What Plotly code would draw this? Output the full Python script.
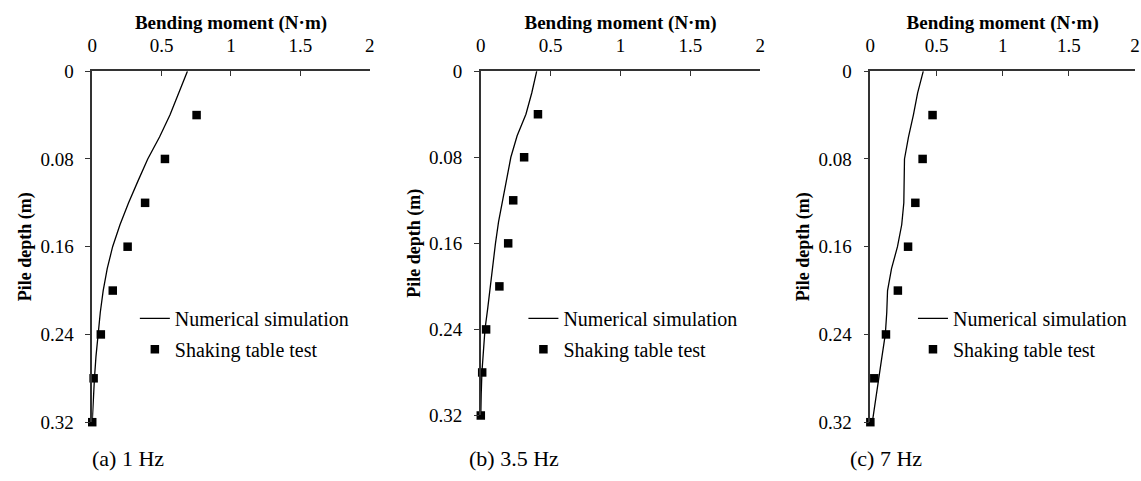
import plotly.graph_objects as go

# ---- data ----
panel_titles = ["(a) 1 Hz", "(b) 3.5 Hz", "(c) 7 Hz"]
depth_line = [0, 0.02, 0.04, 0.06, 0.08, 0.10, 0.12, 0.14, 0.16, 0.18, 0.20, 0.22, 0.24, 0.26, 0.28, 0.30, 0.32]
sim_1hz = [0.686, 0.625, 0.56, 0.485, 0.40, 0.33, 0.262, 0.20, 0.147, 0.108, 0.079, 0.058, 0.042, 0.027, 0.016, 0.006, 0.0]
sim_35hz = [0.40, 0.365, 0.323, 0.26, 0.215, 0.184, 0.155, 0.127, 0.105, 0.088, 0.07, 0.05, 0.03, 0.018, 0.008, 0.003, 0.0]
sim_7hz = [0.40, 0.357, 0.325, 0.288, 0.258, 0.253, 0.253, 0.237, 0.205, 0.16, 0.13, 0.124, 0.113, 0.088, 0.063, 0.038, 0.015]

depth_pts = [0.04, 0.08, 0.12, 0.16, 0.20, 0.24, 0.28, 0.32]
exp_1hz = [0.752, 0.524, 0.381, 0.255, 0.148, 0.062, 0.01, 0.0]
exp_35hz = [0.409, 0.31, 0.232, 0.196, 0.133, 0.038, 0.01, 0.0]
exp_7hz = [0.47, 0.395, 0.34, 0.285, 0.208, 0.118, 0.03, 0.0]

sims = [sim_1hz, sim_35hz, sim_7hz]
exps = [exp_1hz, exp_35hz, exp_7hz]

x_ticks = [0, 0.5, 1, 1.5, 2]
y_ticks = [0, 0.08, 0.16, 0.24, 0.32]

W, H = 1141, 481
# plot areas in pixels (left, right, top, bottom)
areas = [(88, 368, 64, 431), (480, 762, 64, 424), (873, 1140, 64, 431)]
caption_x = [124, 514, 889]

SERIF = "Liberation Serif, Times New Roman, serif"
AXC = "#333333"

fig = go.Figure()
layout = dict(
    width=W, height=H, margin=dict(l=0, r=0, t=0, b=0),
    paper_bgcolor="white", plot_bgcolor="white",
    font=dict(family=SERIF, color="black", size=19),
    annotations=[],
)

for i in range(3):
    sfx = "" if i == 0 else str(i + 1)
    leg = "legend" if i == 0 else f"legend{i + 1}"
    fig.add_trace(go.Scatter(
        x=sims[i], y=depth_line, mode="lines", name="Numerical simulation",
        line=dict(color="black", width=1.3), xaxis="x" + sfx, yaxis="y" + sfx,
        legend=leg, cliponaxis=False, legendgroup=f"a{i}"))
    fig.add_trace(go.Scatter(
        x=exps[i], y=depth_pts, mode="markers", name="Shaking table test",
        marker=dict(symbol="square", size=8.5, color="black"),
        xaxis="x" + sfx, yaxis="y" + sfx, legend=leg, cliponaxis=False,
        legendgroup=f"b{i}"))

    l, r, t, b = areas[i]
    layout["xaxis" + sfx] = dict(
        domain=[l / W, r / W], anchor="y" + sfx, side="top", range=[0, 2],
        tickvals=x_ticks, ticks="inside", ticklen=5, tickcolor=AXC, tickwidth=1.3,
        showline=True, linecolor=AXC, linewidth=1.5, showgrid=False, zeroline=False,
        tickfont=dict(family=SERIF, size=19), ticklabelstandoff=10,
        title=dict(text="<b>Bending moment (N·m)</b>", font=dict(family=SERIF, size=19), standoff=0),
    )
    layout["yaxis" + sfx] = dict(
        domain=[1 - b / H, 1 - t / H], anchor="x" + sfx, range=[0.32, 0],
        tickvals=y_ticks, ticktext=["0", "0.08", "0.16", "0.24", "0.32"],
        ticks="outside", ticklen=5, tickcolor=AXC, tickwidth=1.3,
        showline=True, linecolor=AXC, linewidth=1.5, showgrid=False, zeroline=False,
        tickfont=dict(family=SERIF, size=19), ticklabelstandoff=8,
        title=dict(text="<b>Pile depth (m)</b>", font=dict(family=SERIF, size=18), standoff=4),
    )
    layout[leg] = dict(
        x=(l + 43) / W, y=1 - 302 / H, xanchor="left", yanchor="top",
        bgcolor="rgba(0,0,0,0)", font=dict(family=SERIF, size=20),
        tracegroupgap=2, itemwidth=30,
    )
    layout["annotations"].append(dict(
        text=panel_titles[i], xref="paper", yref="paper",
        x=caption_x[i] / W, y=1 - 469 / H, xanchor="center", yanchor="middle",
        showarrow=False, font=dict(family=SERIF, size=22),
    ))

fig.update_layout(**layout)
fig.write_html("out.html")
